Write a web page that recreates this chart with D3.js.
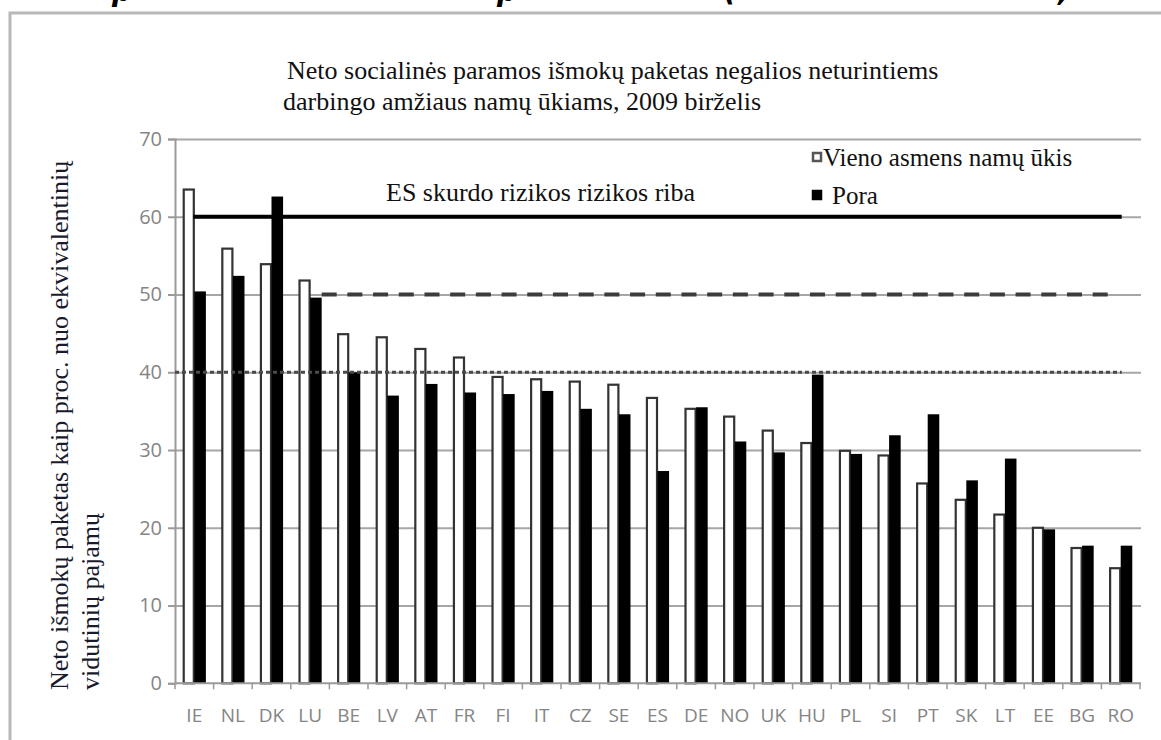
<!DOCTYPE html>
<html>
<head>
<meta charset="utf-8">
<script src="https://cdn.jsdelivr.net/npm/d3@7"></script>
<style>
  html, body { margin: 0; padding: 0; background: #fff; }
  svg { display: block; }
</style>
</head>
<body>
<svg id="chart" width="1161" height="740"></svg>
<script>
// Countries, ordered by the single-person package
const categories = ["IE","NL","DK","LU","BE","LV","AT","FR","FI","IT","CZ","SE","ES","DE","NO","UK","HU","PL","SI","PT","SK","LT","EE","BG","RO"];
// Net benefit package, % of equivalised median income
const singleValues = [63.5,55.9,53.9,51.8,44.9,44.5,43.0,41.9,39.4,39.1,38.8,38.4,36.7,35.3,34.3,32.5,30.9,29.9,29.3,25.7,23.6,21.7,20.0,17.4,14.8];
const coupleValues = [50.4,52.4,62.6,49.6,40.0,37.0,38.5,37.4,37.2,37.6,35.3,34.6,27.3,35.5,31.1,29.7,39.7,29.5,31.9,34.6,26.1,28.9,19.8,17.7,17.7];
const seriesNames = ["Vieno asmens namų ūkis", "Pora"];
const yTicks = [0,10,20,30,40,50,60,70];
// Threshold lines: 60 % poverty line, 50 % and 40 %
const refLevels = [60, 50, 40];
const refFrom = ["IE", "LU", null];
const titleLines = ["Neto socialinės paramos išmokų paketas negalios neturintiems",
                    "darbingo amžiaus namų ūkiams, 2009 birželis"];
const yTitleLines = ["Neto išmokų paketas kaip proc. nuo ekvivalentinių", "vidutinių pajamų"];
const refLabel = "ES skurdo rizikos rizikos riba";

const svg = d3.select("#chart");
const serif = "'Liberation Serif', 'Times New Roman', serif";
const sans = "'Open Sans', 'Noto Sans', sans-serif";
const grey = "#858585";

const plotLeft = 175, plotRight = 1140, plotTop = 139, plotBottom = 683.3;

const x = d3.scaleBand().domain(categories).range([plotLeft, plotRight]).paddingInner(0.4).paddingOuter(0.2);
const x1 = d3.scaleBand().domain(seriesNames).range([0, x.bandwidth()]);
const y = d3.scaleLinear().domain([0, 70]).range([plotBottom, plotTop]);

// outer frame of the embedded chart
svg.append("rect").attr("x", 10).attr("y", 13).attr("width", 1300).attr("height", 900)
  .attr("fill", "none").attr("stroke", "#b8b8b8").attr("stroke-width", 3);

// descenders of the preceding text line, clipped by the page edge
const topFrag = [["p", 112], ["p", 497], ["(", 724], [",", 1058]];
svg.selectAll("text.frag").data(topFrag).join("text").attr("class", "frag")
  .attr("x", d => d[1]).attr("y", 1)
  .attr("font-family", "'DejaVu Sans', sans-serif").attr("font-weight", "bold")
  .attr("font-style", "italic").attr("font-size", 28).attr("fill", "#000")
  .text(d => d[0]);

// horizontal gridlines
svg.append("g")
  .attr("transform", `translate(${plotLeft},0)`)
  .call(d3.axisLeft(y).tickValues(yTicks.filter(v => v > 0)).tickSize(-(plotRight + 1 - plotLeft)).tickFormat(""))
  .call(g => g.select(".domain").remove())
  .call(g => g.selectAll(".tick line").attr("stroke", "#a6a6a6").attr("stroke-width", 2));

// y axis
svg.append("g")
  .attr("transform", `translate(${plotLeft},0)`)
  .call(d3.axisLeft(y).tickValues(yTicks).tickSize(7).tickPadding(6))
  .call(g => g.select(".domain").attr("stroke", "#9a9a9a").attr("stroke-width", 2))
  .call(g => g.selectAll(".tick line").attr("stroke", "#9a9a9a").attr("stroke-width", 2))
  .call(g => g.selectAll(".tick text").attr("fill", grey).attr("font-family", sans).attr("font-size", 20));

// bars
const groups = svg.append("g").selectAll("g").data(categories).join("g")
  .attr("transform", c => `translate(${x(c)},0)`);
groups.append("rect")
  .attr("x", x1(seriesNames[0]) + 1).attr("width", x1.bandwidth() - 1.5)
  .attr("y", (c, i) => y(singleValues[i])).attr("height", (c, i) => y(0) - y(singleValues[i]))
  .attr("fill", "#fff").attr("stroke", "#333").attr("stroke-width", 2.2);
groups.append("rect")
  .attr("x", x1(seriesNames[1])).attr("width", x1.bandwidth())
  .attr("y", (c, i) => y(coupleValues[i])).attr("height", (c, i) => y(0) - y(coupleValues[i]))
  .attr("fill", "#000");

// x axis with ticks on category boundaries
svg.append("line").attr("x1", plotLeft).attr("x2", plotRight + 1).attr("y1", y(0)).attr("y2", y(0))
  .attr("stroke", "#9a9a9a").attr("stroke-width", 2);
const bounds = d3.range(categories.length + 1).map(i => plotLeft + i * x.step());
svg.selectAll("line.xtick").data(bounds).join("line").attr("class", "xtick")
  .attr("x1", d => d).attr("x2", d => d).attr("y1", y(0)).attr("y2", y(0) + 6)
  .attr("stroke", "#9a9a9a").attr("stroke-width", 1.5);
svg.append("g")
  .attr("transform", `translate(0,${y(0)})`)
  .call(d3.axisBottom(x).tickSize(0).tickPadding(25))
  .call(g => g.select(".domain").remove())
  .call(g => g.selectAll(".tick text").attr("fill", grey).attr("font-family", sans).attr("font-size", 19));

// threshold lines
const mid = c => x(c) + x.bandwidth() / 2;
const last = categories[categories.length - 1];
svg.append("line").attr("x1", mid(refFrom[0]) - 1).attr("x2", mid(last) + 1)
  .attr("y1", y(refLevels[0])).attr("y2", y(refLevels[0]))
  .attr("stroke", "#000").attr("stroke-width", 4);
svg.append("line").attr("x1", x(refFrom[1]) + x.bandwidth()).attr("x2", mid(last) - 6)
  .attr("y1", y(refLevels[1])).attr("y2", y(refLevels[1]))
  .attr("stroke", "#3c3c3c").attr("stroke-width", 4).attr("stroke-dasharray", "15 10.7");
svg.append("line").attr("x1", plotLeft).attr("x2", mid(last) + 1)
  .attr("y1", y(refLevels[2])).attr("y2", y(refLevels[2]))
  .attr("stroke", "#4a4a4a").attr("stroke-width", 3).attr("stroke-dasharray", "4 3");

// title
svg.append("text").attr("font-family", serif).attr("font-size", 26).attr("fill", "#111")
  .selectAll("tspan").data(titleLines).join("tspan")
  .attr("x", (d, i) => i === 0 ? 287 : 283).attr("y", (d, i) => 79 + i * 31).text(d => d);

// threshold label
svg.append("text").attr("x", 386).attr("y", 201).attr("font-family", serif).attr("font-size", 26)
  .attr("fill", "#111").text(refLabel);

// y axis title
svg.append("text").attr("transform", "rotate(-90)")
  .attr("font-family", serif).attr("font-size", 26).attr("fill", "#1a1a2e")
  .selectAll("tspan").data(yTitleLines).join("tspan")
  .attr("x", -690).attr("y", (d, i) => 68 + i * 31).text(d => d);

// legend
const legend = svg.append("g").selectAll("g").data(seriesNames).join("g")
  .attr("transform", (d, i) => `translate(812,${152 + i * 38})`);
legend.append("rect").attr("x", 1).attr("y", 1).attr("width", 8).attr("height", 8)
  .attr("fill", (d, i) => i === 0 ? "#fff" : "#000")
  .attr("stroke", (d, i) => i === 0 ? "#555" : "#000").attr("stroke-width", 2.5);
legend.append("text").attr("x", (d, i) => i === 0 ? 11 : 20).attr("y", 14)
  .attr("font-family", serif).attr("font-size", 25).attr("fill", "#111")
  .text(d => d);
</script>
</body>
</html>
